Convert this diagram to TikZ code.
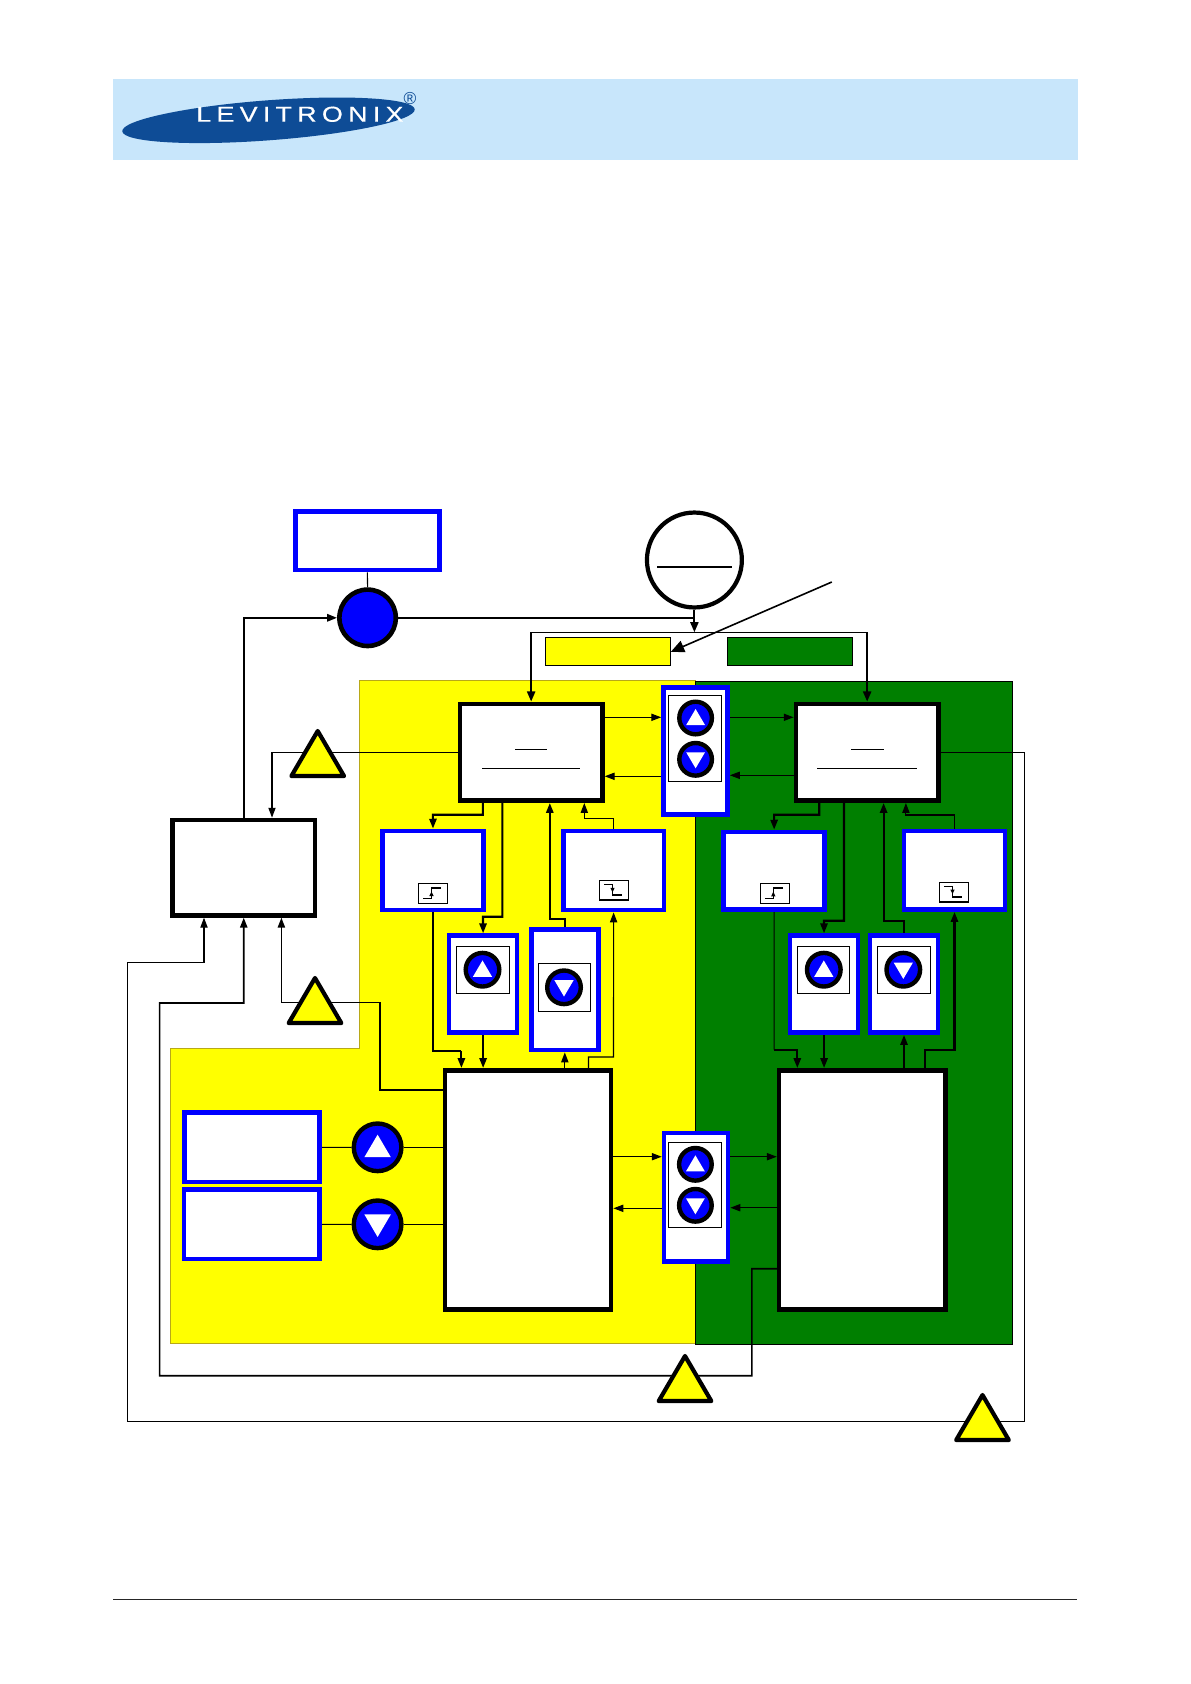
\documentclass[tikz,border=0pt]{standalone}
\usepackage{fontspec}
\setmainfont{Liberation Sans}
\newfontfamily\logofont[LetterSpace=24,FakeStretch=1.25,FakeBold=0.4]{Liberation Sans}
\usetikzlibrary{arrows.meta,shapes.geometric,calc}
\pgfdeclarelayer{under}
\pgfsetlayers{under,main}
\definecolor{headerblue}{HTML}{C8E6FB}
\definecolor{logoblue}{HTML}{0E4C96}
\definecolor{zonegreen}{HTML}{007F00}
\definecolor{zoneedge}{HTML}{B8A818}
\definecolor{pureblue}{HTML}{0000FF}
\definecolor{pureyellow}{HTML}{FFFF00}
\tikzset{
  px/.style={line width=#1*0.75pt},
  hair/.style={px=1.1,draw=black},
  med/.style={px=1.6,draw=black},
  wire/.style={px=2.1,draw=black},
  tipS/.style={-{Stealth[length=7.4pt,width=5.4pt,inset=0pt]}},
  tipM/.style={-{Stealth[length=7.6pt,width=6pt,inset=0pt]}},
  bluebox/.style={draw=pureblue},
  blackbox/.style={draw=black},
  thinbox/.style={draw=black},
  warn/.style={isosceles triangle,isosceles triangle stretches,shape border rotate=90,
    draw=black,fill=pureyellow,px=4.2,inner sep=0pt,outer sep=0pt,line join=round,anchor=apex},
  btn/.style={circle,draw=black,fill=pureblue,inner sep=0pt},
}
\newcommand{\mybox}[7]{%
  \pgfmathsetmacro\mw{(#6-#4-0.7*#3)*0.75}%
  \pgfmathsetmacro\mh{(#7-#5-0.7*#3)*0.75}%
  \node[rectangle,fill=white,inner sep=0pt,px=#3,minimum width=\mw pt,minimum height=\mh pt,#2] (#1) at ({(#4+#6)/2},{(#5+#7)/2}) {};}
\newcommand{\upbtn}[4]{%
  \pgfmathsetmacro\ms{(2*#4-4.4)*0.75}%
  \node[btn,px=4.4,minimum size=\ms pt] (#1) at (#2,#3) {};
  \fill[white,shift={(#2,#3)},scale=#4/18.5] (-9.4,7)--(9.4,7)--(0,-9)--cycle;}
\newcommand{\dnbtn}[4]{%
  \pgfmathsetmacro\ms{(2*#4-4.4)*0.75}%
  \node[btn,px=4.4,minimum size=\ms pt] (#1) at (#2,#3) {};
  \fill[white,shift={(#2,#3)},scale=#4/18.5] (-9.4,-7)--(9.4,-7)--(0,9)--cycle;}
\newcommand{\riseicon}[3]{%
  \mybox{#1}{thinbox}{1}{#2}{#3}{#2+30}{#3+20.7}
  \draw[px=1,shift={(#2,#3)}] (5.1,15.3)--(13.5,15.3)--(13.5,4.7)--(22.8,4.7);
  \draw[px=2,shift={(#2,#3)}] (13.5,4.7)--(22.8,4.7);
  \fill[shift={(#2,#3)}] (11.3,13)--(15.7,13)--(13.5,8.5)--cycle;}
\newcommand{\fallicon}[3]{%
  \mybox{#1}{thinbox}{1}{#2}{#3}{#2+30}{#3+20}
  \draw[px=1,shift={(#2,#3)}] (5,4.3)--(13.5,4.3)--(13.5,15)--(22.8,15);
  \draw[px=2,shift={(#2,#3)}] (13.5,15)--(22.8,15) (0,20)--(30,20);
  \fill[shift={(#2,#3)}] (11.3,7.5)--(15.7,7.5)--(13.5,12)--cycle;}
\begin{document}
\begin{tikzpicture}[x=0.75pt,y=-0.75pt]
\useasboundingbox (0,0) rectangle (1191,1684);
\begin{pgfonlayer}{under}
\fill[white] (0,0) rectangle (1191,1684);
\end{pgfonlayer}
% header and footer
\fill[headerblue] (113,79) rectangle (1078,160);
\node[ellipse,fill=logoblue,rotate=4.3,minimum width=220pt,minimum height=30pt,inner sep=0pt] (logo) at (268.5,120.3) {};
\node[anchor=base west,inner sep=0pt,text=white] (logotext) at (196,121.7) {\logofont\fontsize{16.2}{18}\selectfont LEVITRONIX};
\node[inner sep=0pt,text=logoblue] (logoreg) at (410,99) {\fontsize{13}{14}\selectfont ®};
\draw[px=1,draw=black!85] (113,1599.5) -- (1077,1599.5);

% ---- nodes
\mybox{setpt}{bluebox}{4.6}{293.7}{510}{441}{571.7}
\node[btn,px=4.6,minimum size=42.3pt] (bluec) at (367.6,617.8) {};
\node[circle,draw=black,fill=white,px=4.2,minimum size=71.2pt,inner sep=0pt] (ccirc) at (694.4,560) {};
\draw[px=2] ($(ccirc.center)+(-37,6.7)$) -- ($(ccirc.center)+(37.6,6.7)$);
\mybox{ylabel}{draw=black,fill=pureyellow}{1}{545.5}{637.3}{670.7}{666.3}
\mybox{glabel}{draw=black,fill=zonegreen}{1}{727.3}{637.3}{852.9}{666.3}

\mybox{upL}{blackbox}{4.6}{458.3}{702.3}{604}{802.3}
\draw[px=1] (515,749) -- (547,749) (482,768.3) -- (579.6,768.3);
\mybox{upR}{blackbox}{4.6}{794.3}{702.3}{940}{802.3}
\draw[px=1] (851,749) -- (884,749) (817.3,768.3) -- (917,768.3);

\mybox{upM}{bluebox}{4.6}{661.9}{685.7}{729.2}{816}
\mybox{upMi}{thinbox}{1}{668.4}{695.3}{721.6}{781.7}
\upbtn{upMa}{695.6}{718}{18.5}
\dnbtn{upMb}{695.6}{759.3}{18.5}

\mybox{blackb}{blackbox}{4.6}{170.8}{818.3}{316.7}{917}

\mybox{boxA}{bluebox}{4.6}{380.6}{829.3}{485.4}{911.7}
\riseicon{iconA}{418}{883}
\mybox{boxD}{bluebox}{4.6}{561.6}{829.3}{665.6}{911.7}
\fallicon{iconD}{599}{880.3}
\mybox{boxE}{bluebox}{4.6}{722}{830.3}{826.3}{911.3}
\riseicon{iconE}{759.8}{883.3}
\mybox{boxF}{bluebox}{4.6}{902.5}{829.3}{1006.5}{911.3}
\fallicon{iconF}{939}{882}

\mybox{boxB}{bluebox}{4.6}{447.5}{934}{518.7}{1034.3}
\mybox{boxBi}{thinbox}{1}{456.4}{946.3}{509.4}{994.3}
\upbtn{btnB}{482.5}{969.7}{19}
\mybox{boxC}{bluebox}{4.6}{529.6}{928}{600}{1051.7}
\mybox{boxCi}{thinbox}{1}{538.5}{963.3}{590.6}{1011.7}
\dnbtn{btnC}{564}{987.3}{19}
\mybox{boxG}{bluebox}{4.6}{788.5}{934}{859.6}{1034.3}
\mybox{boxGi}{thinbox}{1}{797.3}{946.3}{850.3}{994.3}
\upbtn{btnG}{823.8}{969.7}{19}
\mybox{boxH}{bluebox}{4.6}{868.4}{934}{939.6}{1034.3}
\mybox{boxHi}{thinbox}{1}{877.3}{946.3}{930.7}{994.3}
\dnbtn{btnH}{903.3}{969.7}{19}

\mybox{lowL}{blackbox}{4.6}{443.3}{1068.7}{612.7}{1311}
\mybox{lowR}{blackbox}{4.6}{777.5}{1068.7}{947}{1311}
\mybox{lowM}{bluebox}{4.6}{662.4}{1131.3}{729.7}{1263.3}
\mybox{lowMi}{thinbox}{1}{668.5}{1142.3}{721.8}{1228.3}
\upbtn{lowMa}{695.4}{1164.3}{18.5}
\dnbtn{lowMb}{695.4}{1205.3}{18.5}

\mybox{recU}{bluebox}{4.6}{182.9}{1111}{321.3}{1183.7}
\mybox{recD}{bluebox}{4.6}{182.5}{1188}{321.3}{1260.7}
\upbtn{bigU}{377.6}{1147.3}{26}
\dnbtn{bigD}{377.6}{1224.3}{26}

\node[warn,minimum width=39.5pt,minimum height=33.8pt] (t1) at (317.7,731) {};
\node[warn,minimum width=39.5pt,minimum height=33.8pt] (t2) at (315,978) {};
\node[warn,minimum width=39.5pt,minimum height=33.8pt] (t3) at (685,1356) {};
\node[warn,minimum width=39.5pt,minimum height=33.8pt] (t4) at (982.5,1395) {};

% ---- zones and connectors, under the nodes
\begin{pgfonlayer}{under}
\draw[fill=pureyellow,draw=zoneedge,px=1] (359.2,680.3) -- (695,680.3) -- (695,1343.3) -- (170.6,1343.3) -- (170.6,1048) -- (359.2,1048) -- cycle;
\draw[fill=zonegreen,draw=black,px=1] (695,681.3) rectangle (1012.6,1344.3);

\coordinate (brk) at (694.4,632.3);
\coordinate (diag) at (831.8,582);
\draw[wire,tipS] (blackb.north) |- (bluec.west);
\draw[hair] (setpt.south) -- (bluec.north);
\draw[wire] (bluec.east) -- (ccirc.south |- bluec.east);
\draw[wire,tipM] (ccirc.south) -- (brk);
\draw[hair] (brk -| upL.north) -- (brk -| upR.north);
\draw[wire,tipM] (brk -| upL.north) -- (upL.north);
\draw[wire,tipM] (brk -| upR.north) -- (upR.north);
\draw[med,-{Stealth[length=10pt,width=9pt,inset=0pt]}] (diag) -- (ylabel.east);

% top row between blocks
\draw[hair,tipS] (upL.east |- 0,717.3) -- (upM.west |- 0,717.3);
\draw[hair,tipS] (upM.east |- 0,717.3) -- (upR.west |- 0,717.3);
\draw[hair,tipS] (upM.west |- 0,776.3) -- (upL.east |- 0,776.3);
\draw[hair,tipS] (upR.west |- 0,775.3) -- (upM.east |- 0,775.3);

% yellow column, top
\draw[wire,tipS] (upL.south -| 482.8,0) |- (432.9,814.7) -- (boxA.north);
\draw[wire,tipS] (upL.south -| 502.3,0) |- (483,916.7) -- (boxB.north);
\draw[wire,tipS] (boxC.north) |- (549.8,919.3) -- (upL.south -| 549.8,0);
\draw[hair,tipS] (boxD.north) |- (584.3,818.3) -- (upL.south -| 584.3,0);
\draw[wire] (boxA.south) |- (461.4,1050.7);
\draw[wire,tipS] (461.4,1050.7) -- (lowL.north -| 461.4,0);
\draw[wire,tipS] (boxB.south) -- (lowL.north -| boxB.south);
\draw[hair,tipS] (lowL.north -| boxC.south) -- (boxC.south);
\draw[hair,tipS] (lowL.north -| 588.5,0) |- (613.5,1057) -- (boxD.south);

% green column, top
\draw[wire,tipS] (upR.south -| 819.2,0) |- (774.1,814.7) -- (boxE.north);
\draw[wire,tipS] (upR.south -| 844,0) |- (824,920.7) -- (boxG.north);
\draw[wire,tipS] (boxH.north) |- (883.6,921) -- (upR.south -| 883.6,0);
\draw[hair,tipS] (boxF.north) |- (905.9,815) -- (upR.south -| 905.9,0);
\draw[hair] (boxE.south) -- (774.1,1049.7);
\draw[wire,tipS] (774.1,1049.7) -| (lowR.north -| 797.3,0);
\draw[wire,tipS] (boxG.south) -- (lowR.north -| boxG.south);
\draw[wire,tipS] (lowR.north -| boxH.south) -- (boxH.south);
\draw[wire,tipS] (lowR.north -| 924.8,0) |- (954.5,1049.7) -- (boxF.south);

% lower blocks
\draw[hair,tipS] (lowL.east |- 0,1156.7) -- (lowM.west |- 0,1156.7);
\draw[hair,tipS] (lowM.east |- 0,1156.7) -- (lowR.west |- 0,1156.7);
\draw[hair,tipS] (lowM.west |- 0,1208.3) -- (lowL.east |- 0,1208.3);
\draw[hair,tipS] (lowR.west |- 0,1207.7) -- (lowM.east |- 0,1207.7);
\draw[hair] (recU.east) -- (bigU.west);
\draw[hair] (bigU.east) -- (lowL.west |- bigU.east);
\draw[hair] (recD.east) -- (bigD.west);
\draw[hair] (bigD.east) -- (lowL.west |- bigD.east);

% feedback lines through the warning triangles
\draw[hair,tipS] (upL.west) -| (blackb.north -| 272,0);
\draw[med,tipS] (lowL.west |- 0,1090) -- (379.8,1090) |- (281.4,1002.3) -- (blackb.south -| 281.4,0);
\draw[med,tipS] (lowR.west |- 0,1268.7) -- (751.8,1268.7) |- (159.6,1375.7) |- (243.7,1003) -- (blackb.south);
\draw[hair,tipS] (upR.east) -- (1024.3,752.3) |- (127.8,1421.3) |- (204,962.3) -- (blackb.south -| 204,0);
\end{pgfonlayer}
\end{tikzpicture}
\end{document}
